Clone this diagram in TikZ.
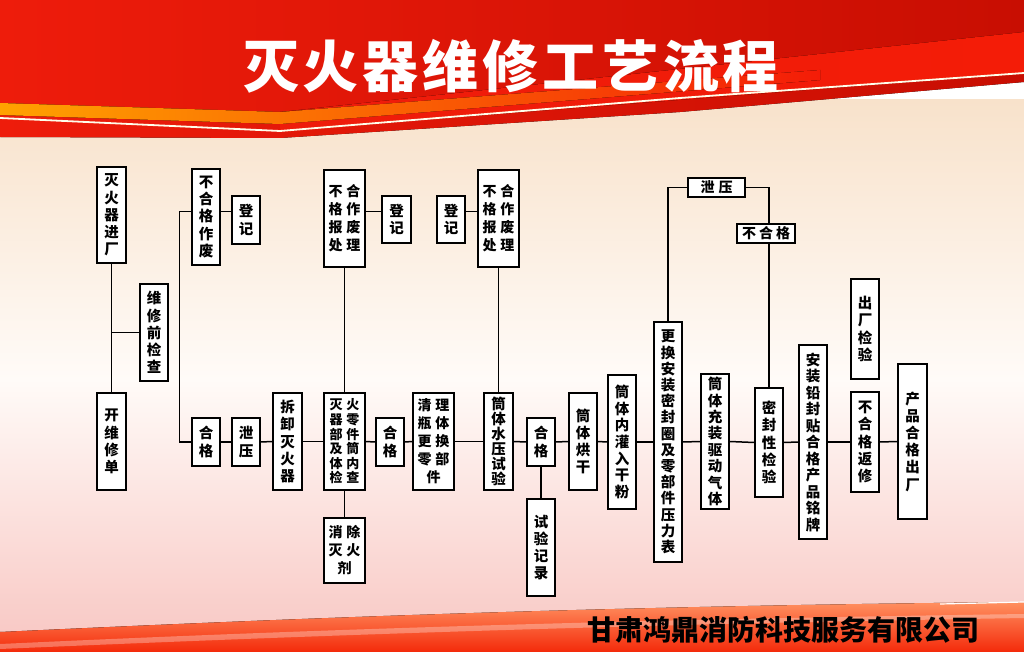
\documentclass[tikz,border=0pt]{standalone}
\usepackage{fontspec}
\newfontfamily\cjk{Noto Sans CJK SC}
\usetikzlibrary{calc}
\definecolor{bgtop}{HTML}{F8E2CB}
\definecolor{bgmid}{HTML}{FFFBF8}
\definecolor{bgbot}{HTML}{F8C6C2}
\definecolor{redL}{HTML}{EE1C0B}
\definecolor{redR}{HTML}{C80E02}
\definecolor{redB}{HTML}{F41C07}
\definecolor{yelA}{HTML}{FFA200}
\definecolor{yelB}{HTML}{FFDD3C}
\definecolor{orgT}{HTML}{FF9060}
\definecolor{orgB}{HTML}{F42A0A}
\newcommand\tc[2]{#1\hspace{4pt}#2}
\tikzset{
  box/.style={draw=black, line width=1.6pt, fill=white, inner sep=0pt, align=center,
    font=\cjk\bfseries\fontsize{14.5}{17.2}\selectfont},
  hbox/.style={box, font=\cjk\bfseries\fontsize{14}{15}\selectfont},
  pitch/.style={font=\cjk\bfseries\fontsize{14.5}{#1}\selectfont},
  ln/.style={line width=1.5pt, draw=black},
}
\begin{document}
\begin{tikzpicture}[x=1pt,y=-1pt]
\useasboundingbox (0,0) rectangle (1024,652);
% background
\fill[top color=bgtop, bottom color=bgmid] (0,100) rectangle (1024,380);
\fill[top color=bgmid, bottom color=bgbot] (0,379) rectangle (1024,652);
\fill[left color=redL, right color=redR] (0,0) -- (1024,0) -- (1024,82) -- (680,112) -- (280,138) -- (0,137) -- cycle;
\fill[left color=redL, right color=redB] (280,112) -- (1024,32) -- (1024,73) -- (280,131) -- cycle;
\fill[left color=yelA, middle color=yelB, right color=redB] (0,103) -- (280,112) -- (820,70) -- (820,80) -- (280,124) -- (0,115) -- cycle;
\draw[line width=1.8pt, white!92!yellow] (0,118) -- (280,131) -- (680,98) -- (1024,73);
\fill[top color=orgT, bottom color=orgB] (0,652) -- (0,632) .. controls (300,618) and (600,606) .. (1024,602) -- (1024,652) -- cycle;
\fill[white, opacity=0.3] (0,644) .. controls (300,630) and (600,620) .. (1024,614) -- (1024,618) .. controls (600,625) and (300,636) .. (0,649) -- cycle;
\draw[white, line width=1.2pt] (940,604) -- (1024,602);
% title
\node[font=\cjk\bfseries\fontsize{56}{60}\selectfont, text=white] (title) at (511,66)
  {灭\hspace{4pt}火\hspace{4pt}器\hspace{4pt}维\hspace{4pt}修\hspace{4pt}工\hspace{4pt}艺\hspace{4pt}流\hspace{4pt}程};
\node[font=\cjk\bfseries\fontsize{28}{30}\selectfont, text=black] (company) at (783.5,630) {甘肃鸿鼎消防科技服务有限公司};
% nodes
\node[box, minimum width=29pt, minimum height=96pt] (n1) at (111.5,215) {灭\\火\\器\\进\\厂};
\node[box, minimum width=28pt, minimum height=97pt] (n2) at (154,332.5) {维\\修\\前\\检\\查};
\node[box, minimum width=29pt, minimum height=97pt] (n3) at (111.5,441.5) {开\\维\\修\\单};
\node[box, minimum width=28pt, minimum height=96pt] (n4) at (206,217) {不\\合\\格\\作\\废};
\node[box, minimum width=28pt, minimum height=48pt] (n5) at (246,220) {登\\记};
\node[box, minimum width=28pt, minimum height=48pt] (n6) at (206,442) {合\\格};
\node[box, minimum width=28pt, minimum height=48pt] (n7) at (246,442) {泄\\压};
\node[box, minimum width=29pt, minimum height=97pt] (n8) at (287.5,441.5) {拆\\卸\\灭\\火\\器};
\node[box, minimum width=41pt, minimum height=97pt, font=\cjk\bfseries\fontsize{14}{18}\selectfont] (n9) at (344.5,218.5) {\tc{不}{合}\\\tc{格}{作}\\\tc{报}{废}\\\tc{处}{理}};
\node[box, minimum width=29pt, minimum height=47pt] (n10) at (396.5,219.5) {登\\记};
\node[box, minimum width=28pt, minimum height=47pt] (n11) at (451,219.5) {登\\记};
\node[box, minimum width=41pt, minimum height=97pt, font=\cjk\bfseries\fontsize{14}{18}\selectfont] (n12) at (498.5,218.5) {\tc{不}{合}\\\tc{格}{作}\\\tc{报}{废}\\\tc{处}{理}};
\node[box, minimum width=41pt, minimum height=97pt, font=\cjk\bfseries\fontsize{13}{14.6}\selectfont] (n13) at (344.5,441.5) {\tc{灭}{火}\\\tc{器}{零}\\\tc{部}{件}\\\tc{及}{筒}\\\tc{体}{内}\\\tc{检}{查}};
\node[box, minimum width=28pt, minimum height=48pt] (n14) at (390,442) {合\\格};
\node[box, minimum width=41pt, minimum height=97pt, font=\cjk\bfseries\fontsize{14}{18}\selectfont] (n15) at (433.5,441.5) {\tc{清}{理}\\\tc{瓶}{体}\\\tc{更}{换}\\\tc{零}{部}\\件};
\node[box, pitch=15, minimum width=29pt, minimum height=97pt] (n16) at (498.5,441.5) {筒\\体\\水\\压\\试\\验};
\node[box, minimum width=41pt, minimum height=65pt, font=\cjk\bfseries\fontsize{14}{18}\selectfont] (n17) at (344.5,550.5) {\tc{消}{除}\\\tc{灭}{火}\\剂};
\node[box, minimum width=28pt, minimum height=48pt] (n18) at (541,442) {合\\格};
\node[box, minimum width=28pt, minimum height=97pt] (n19) at (541,547.5) {试\\验\\记\\录};
\node[box, minimum width=28pt, minimum height=97pt] (n20) at (583,441.5) {筒\\体\\烘\\干};
\node[box, pitch=16.7, minimum width=28pt, minimum height=134pt] (n21) at (622,442) {筒\\体\\内\\灌\\入\\干\\粉};
\node[box, pitch=16.2, minimum width=28pt, minimum height=240pt] (n22) at (668,442) {更\\换\\安\\装\\密\\封\\圈\\及\\零\\部\\件\\压\\力\\表};
\node[hbox, minimum width=57pt, minimum height=19pt] (n23) at (716.5,187.5) {泄\hspace{4pt}压};
\node[box, pitch=16.4, minimum width=28pt, minimum height=135pt] (n24) at (715,441.5) {筒\\体\\充\\装\\驱\\动\\气\\体};
\node[hbox, minimum width=58pt, minimum height=19pt] (n25) at (766,233.5) {不\hspace{3pt}合\hspace{3pt}格};
\node[box, minimum width=28pt, minimum height=109pt] (n26) at (769,442.5) {密\\封\\性\\检\\验};
\node[box, pitch=16.5, minimum width=28pt, minimum height=194pt] (n27) at (813,442) {安\\装\\铅\\封\\贴\\合\\格\\产\\品\\铭\\牌};
\node[box, minimum width=28pt, minimum height=100pt] (n28) at (865,329) {出\\厂\\检\\验};
\node[box, minimum width=28pt, minimum height=100pt] (n29) at (865,442) {不\\合\\格\\返\\修};
\node[box, minimum width=29pt, minimum height=155pt] (n30) at (912.5,441.5) {产\\品\\合\\格\\出\\厂};
% connectors
\coordinate (j1) at (179.3,211.7);
\draw[ln] (n1.south) -- (n3.north);
\draw[ln] (n2.west) -- (n2.west -| n1.south);
\draw[ln] (n4.west |- j1) -- (j1) -- (j1 |- n6.west) -- (n6.west);
\draw[ln] (n4.east |- j1) -- (n5.west |- j1);
\draw[ln] (n9.east |- j1) -- (n10.west |- j1);
\draw[ln] (n11.east |- j1) -- (n12.west |- j1);
\draw[ln] (n9.south) -- (n13.north);
\draw[ln] (n12.south) -- (n16.north);
\draw[ln] (n13.south) -- (n17.north);
\draw[ln] (n18.south) -- (n19.north);
\draw[ln] (n22.north) |- (n23.west);
\draw[ln] (n23.east) -| (n26.north |- n25.north);
\draw[ln] (n25.south -| n26.north) -- (n26.north);
\draw[ln] (n6.east) -- (n7.west);
\draw[ln] (n7.east) -- (n8.west);
\draw[ln] (n8.east) -- (n13.west);
\draw[ln] (n13.east) -- (n14.west);
\draw[ln] (n14.east) -- (n15.west);
\draw[ln] (n15.east) -- (n16.west);
\draw[ln] (n16.east) -- (n18.west);
\draw[ln] (n18.east) -- (n20.west);
\draw[ln] (n20.east) -- (n21.west);
\draw[ln] (n21.east) -- (n22.west);
\draw[ln] (n22.east) -- (n24.west);
\draw[ln] (n24.east) -- (n26.west);
\draw[ln] (n26.east) -- (n27.west);
\draw[ln] (n27.east) -- (n29.west);
\draw[ln] (n29.east) -- (n30.west);
\end{tikzpicture}
\end{document}
